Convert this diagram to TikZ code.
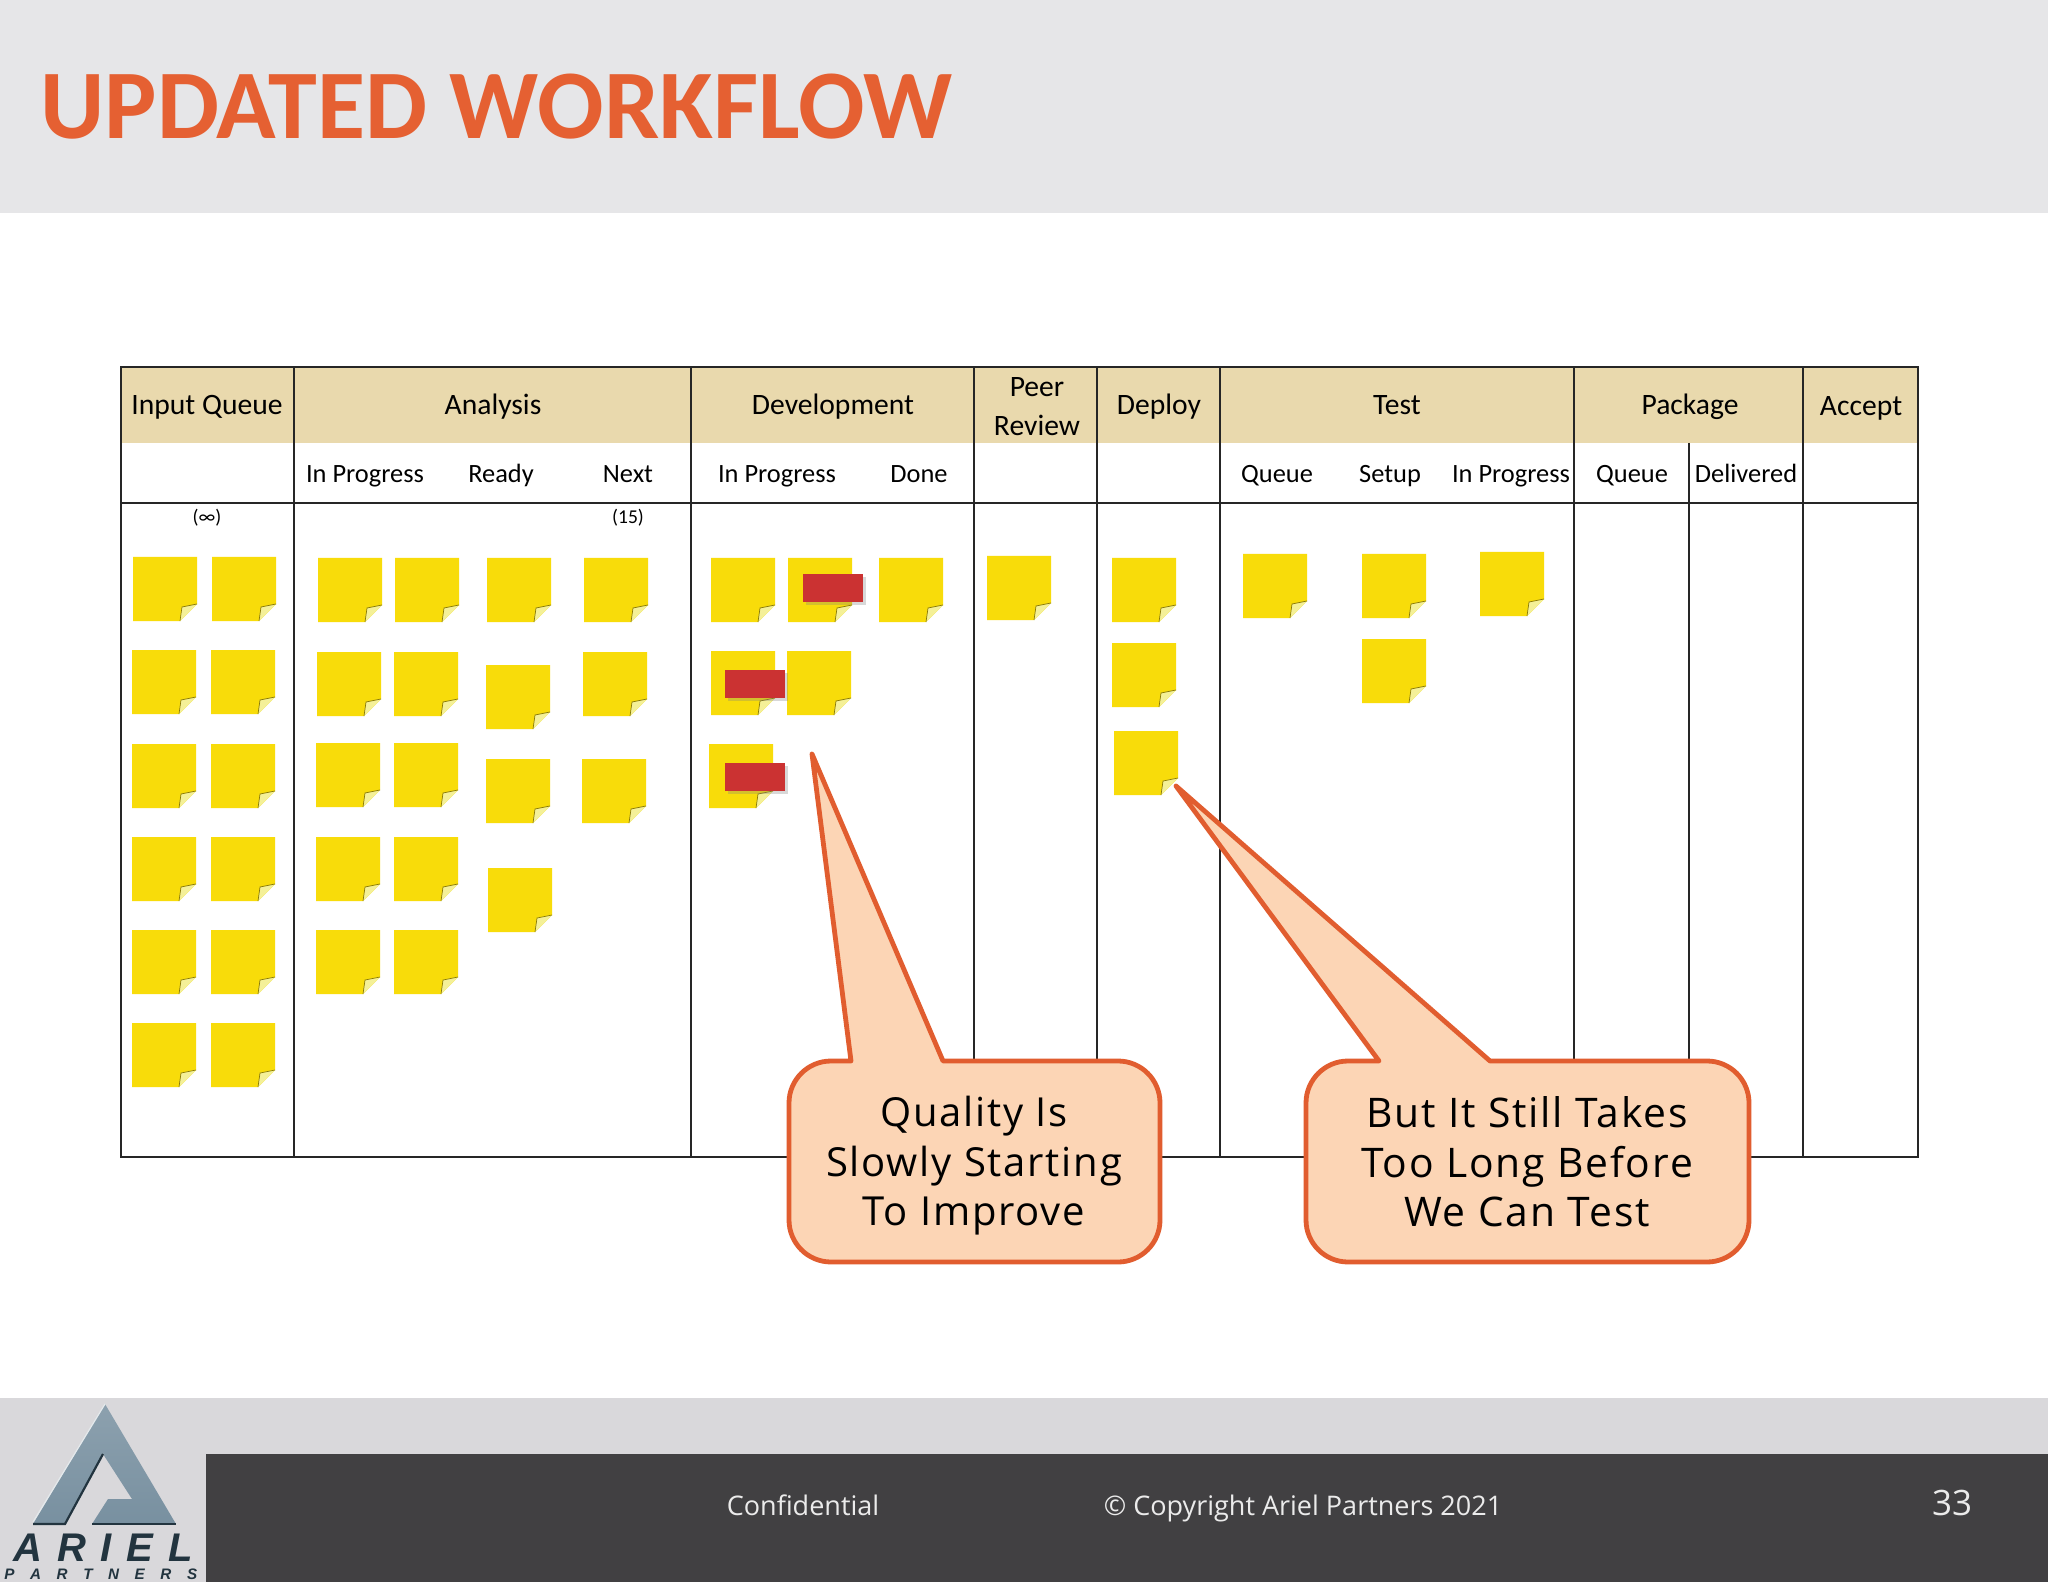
\documentclass[tikz,border=0pt]{standalone}
\usepackage{fontspec}
\usetikzlibrary{shadows}
\setmainfont{Carlito}
\newfontfamily\footfont{Open Sans}
\newfontfamily\callfont[LetterSpace=4.5]{Open Sans}
\newfontfamily\logofont{Liberation Sans}
\definecolor{titlered}{HTML}{E56032}
\definecolor{topband}{HTML}{E6E6E8}
\definecolor{lowband}{HTML}{D9D8DB}
\definecolor{darkband}{HTML}{414042}
\definecolor{headtan}{HTML}{E9D9AD}
\definecolor{noteyellow}{HTML}{F8DC0A}
\definecolor{notefold}{HTML}{F4F098}
\definecolor{flagred}{HTML}{CB3232}
\definecolor{callfill}{HTML}{FCD5B5}
\definecolor{callline}{HTML}{E15D2F}
\definecolor{logosteel}{HTML}{7890A0}
\definecolor{logodark}{HTML}{22343F}
\tikzset{
  rule/.style={line width=1pt,draw=black!85},
  headtext/.style={font=\fontsize{14.8}{18}\selectfont,anchor=base,inner sep=0pt},
  subtext/.style={font=\fontsize{13.2}{15}\selectfont,anchor=base,inner sep=0pt},
  limittext/.style={font=\fontsize{9.8}{10}\selectfont,anchor=base,inner sep=0pt},
  flagbox/.style={fill=flagred,minimum width=30pt,minimum height=14pt,inner sep=0pt,anchor=north west,
    drop shadow={shadow xshift=1.2pt,shadow yshift=-1.2pt,opacity=.3}},
  callshape/.style={fill=callfill,draw=callline,line width=2.4pt,line join=round},
  calltext/.style={font=\callfont\fontsize{20.4}{24.75}\selectfont,align=center,anchor=center,inner sep=0pt},
  foottext/.style={font=\footfont\fontsize{13.5}{16}\selectfont,text=white!92!black,anchor=base,inner sep=0pt},
  sticky/.pic={
    \fill[noteyellow] (0,0) -- (64,0) -- (64,47) -- (47,64) -- (0,64) -- cycle;
    \fill[notefold] (64,47) -- (49,50) -- (47,64) -- cycle;
    \draw[black!45!noteyellow,line width=.35pt] (64,47) -- (49,50) -- (47,64);
  }
}
\newcommand{\callout}[7]{%
  \draw[callshape] (#5,#3) -- (#7) -- (#6,#3) [rounded corners=21pt] -- (#2,#3) -- (#2,#4) -- (#1,#4) -- (#1,#3) [sharp corners] -- (#5,#3) -- cycle;
}
\begin{document}
\begin{tikzpicture}[x=0.5pt,y=-0.5pt]
\useasboundingbox (0,0) rectangle (2048,1582);
\fill[white] (0,0) rectangle (2048,1582);
\fill[topband] (0,0) rectangle (2048,213);
\fill[lowband] (0,1398) rectangle (2048,1582);
\fill[darkband] (206,1454) rectangle (2048,1582);

\node[anchor=base west,inner sep=0pt,text=titlered,font=\fontsize{49.2}{52}\selectfont\bfseries] (TITLE) at (40,139) {UPDATED WORKFLOW};

\fill[headtan] (121,367) rectangle (1918,443);
\draw[rule] (121,367) rectangle (1918,1157);
\draw[rule] (121,443) -- (121,503) -- (1918,503);
\foreach \xline in {294,691,974,1097,1220,1574,1803}
  \draw[rule] (\xline,367) -- (\xline,1157);
\draw[rule] (1689,443) -- (1689,1157);

\node[headtext] (INPUTQ) at (207,415) {Input Queue};
\node[headtext] (ANALYSIS) at (493,415) {Analysis};
\node[headtext] (DEVEL) at (833,415) {Development};
\node[headtext] (PEERA) at (1037,397) {Peer};
\node[headtext] (PEERB) at (1037,436) {Review};
\node[headtext] (DEPLOY) at (1159,415) {Deploy};
\node[headtext] (TEST) at (1397,415) {Test};
\node[headtext] (PACKAGE) at (1690,415) {Package};
\node[headtext] (ACCEPT) at (1861,416) {Accept};

\node[subtext] (AINPROG) at (365,483) {In Progress};
\node[subtext] (AREADY) at (501,483) {Ready};
\node[subtext] (ANEXT) at (628,483) {Next};
\node[subtext] (DINPROG) at (777,483) {In Progress};
\node[subtext] (DDONE) at (919,483) {Done};
\node[subtext] (TQUEUE) at (1277,483) {Queue};
\node[subtext] (TSETUP) at (1390,483) {Setup};
\node[subtext] (TINPROG) at (1511,483) {In Progress};
\node[subtext] (PQUEUE) at (1632,483) {Queue};
\node[subtext] (PDELIV) at (1746,483) {Delivered};

\node[limittext] (INFLIMIT) at (207,524) {(∞)};
\node[limittext] (NEXTLIMIT) at (628,524) {(15)};

\foreach \xnote/\ynote in {133/557,212/557,132/650,211/650,132/744,211/744,132/837,211/837,132/930,211/930,132/1023,211/1023,
  318/558,395/558,317/652,394/652,316/743,394/743,316/837,394/837,316/930,394/930,
  487/558,486/665,486/759,488/868,
  584/558,583/652,582/759,
  711/558,788/558,879/558,711/651,787/651,709/744,
  987/556,
  1112/558,1112/643,1114/731,
  1243/554,1362/554,1362/639,1480/552}
  \pic at (\xnote,\ynote) {sticky};

\node[flagbox] (FLAGA) at (803,574) {};
\node[flagbox] (FLAGB) at (725,670) {};
\node[flagbox] (FLAGC) at (725,763) {};

\callout{789}{1160}{1061}{1262}{851}{943}{812,754}
\callout{1306}{1749}{1061}{1262}{1379}{1490}{1176,786}
\node[calltext,font=\callfont\fontsize{20}{24.75}\selectfont] (QUALITY) at (974,1166) {Quality Is\\Slowly Starting\\To Improve};
\node[calltext] (TOOLONG) at (1527,1162) {But It Still Takes\\Too Long Before\\We Can Test};

\shade[top color=logosteel!85,bottom color=logosteel] (105,1404) -- (176,1524) -- (92,1524) -- (108,1499) -- (132,1499) -- (103,1454) -- (65,1524) -- (33,1524) -- cycle;
\draw[logodark,line width=1.1pt] (33,1524) -- (65,1524) -- (103,1454);
\draw[logodark,line width=1.1pt] (92,1524) -- (176,1524);
\draw[white!80!logosteel,line width=.6pt] (33,1522) -- (105,1404);
\node[anchor=base west,inner sep=0pt,text=logodark,font=\logofont\fontsize{20}{20}\selectfont\bfseries\itshape] (ARIEL) at (13,1561) {A\hspace{7.4pt}R\hspace{7.4pt}I\hspace{7.4pt}E\hspace{7.4pt}L};
\node[anchor=base west,inner sep=0pt,text=logodark,font=\logofont\fontsize{7.6}{8}\selectfont\bfseries\itshape] (PARTNERS) at (4,1579) {P\hspace{7.8pt}A\hspace{7.8pt}R\hspace{7.8pt}T\hspace{7.8pt}N\hspace{7.8pt}E\hspace{7.8pt}R\hspace{7.8pt}S};

\node[foottext] (CONFID) at (803,1515) {Confidential};
\node[foottext] (COPYR) at (1303,1515) {© Copyright Ariel Partners 2021};
\node[foottext,font=\footfont\fontsize{17.5}{18}\selectfont] (PAGENUM) at (1952,1515) {33};
\end{tikzpicture}
\end{document}
